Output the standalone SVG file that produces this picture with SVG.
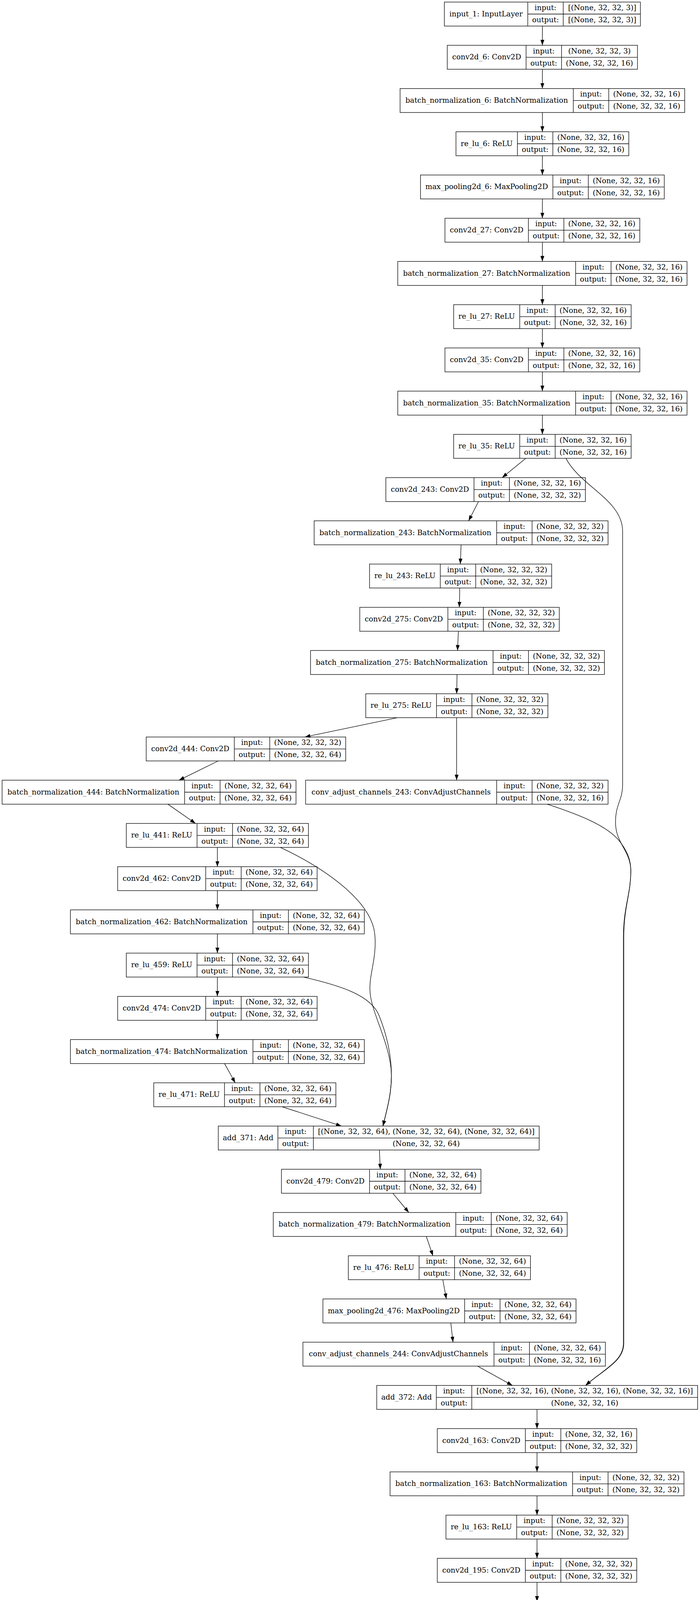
<svg xmlns="http://www.w3.org/2000/svg" width="1791" height="5828" viewBox="0 0 1791 5828">
<defs>
<style>
.n rect,.n path{fill:none;stroke:#000;stroke-width:1.33}
.n text{font-family:"DejaVu Serif","Liberation Serif",serif;font-size:18.67px;text-anchor:middle;fill:#000}
.e{fill:none;stroke:#000;stroke-width:1.33;marker-end:url(#arr)}
</style>
<marker id="arr" markerUnits="userSpaceOnUse" markerWidth="14" markerHeight="10" refX="13.3" refY="4.67" orient="auto" viewBox="0 0 13.3 9.33"><path d="M0,0L13.3,4.67L0,9.33z" fill="#000"/></marker>
</defs>
<rect width="1791" height="5828" fill="#fff"/>
<g id="edges">
<path class="e" d="M1387.7,66.67L1387.7,116"/>
<path class="e" d="M1387.7,177.33L1387.7,226.67"/>
<path class="e" d="M1387.7,288L1387.7,337.33"/>
<path class="e" d="M1387.7,398.67L1387.7,448"/>
<path class="e" d="M1387.7,509.33L1387.7,558.67"/>
<path class="e" d="M1387.7,620L1387.7,669.33"/>
<path class="e" d="M1387.7,730.67L1387.7,780"/>
<path class="e" d="M1387.7,841.33L1387.7,890.67"/>
<path class="e" d="M1387.7,952L1387.7,1001.33"/>
<path class="e" d="M1387.7,1062.67L1387.7,1112"/>
<path class="e" d="M1345.3,1173.33L1284.8,1222.67"/>
<path class="e" d="M1224.3,1284L1199,1333.33"/>
<path class="e" d="M1179.7,1394.67L1177.8,1444"/>
<path class="e" d="M1176.3,1505.33L1175.3,1554.67"/>
<path class="e" d="M1172.8,1616L1170.6,1665.33"/>
<path class="e" d="M1169.4,1726.67L1168.5,1776"/>
<path class="e" d="M1016.4,1837.33L780,1886.67"/>
<path class="e" d="M1168.3,1837.33L1168.3,1997.33"/>
<path class="e" d="M558.4,1948L458,1997.33"/>
<path class="e" d="M429.4,2058.67L500.2,2108"/>
<path class="e" d="M556.2,2169.33L556.2,2218.67"/>
<path class="e" d="M556.2,2280L556.2,2329.33"/>
<path class="e" d="M556.2,2390.67L556.2,2440"/>
<path class="e" d="M556.2,2501.33L556.2,2550.67"/>
<path class="e" d="M556.2,2612L556.2,2661.33"/>
<path class="e" d="M574.4,2722.67L601.8,2772"/>
<path class="e" d="M721.7,2833.33L873.6,2882.67"/>
<path class="e" d="M717.2,2169.33C815,2215 950,2300 959,2392C965,2460 940,2500 948,2550C955,2600 1000,2680 1001.5,2751C1002,2800 990,2840 979.8,2882.67"/>
<path class="e" d="M776.6,2501.33C880,2525 950,2550 970,2600C990,2650 1001,2700 1001.5,2751C1002,2800 990,2840 979.8,2882.67"/>
<path class="e" d="M970.7,2944L973,2993.33"/>
<path class="e" d="M1005,3054.67L1046,3104"/>
<path class="e" d="M1090.6,3165.33L1107.7,3214.67"/>
<path class="e" d="M1132.9,3276L1142,3325.33"/>
<path class="e" d="M1153.4,3386.67L1159,3436"/>
<path class="e" d="M1222,3497.33L1311,3546.67"/>
<path class="e" d="M1448,1173.33C1485,1245 1593,1280 1593,1360L1593,2010C1593,2050 1573,2060 1575,2110C1577,2160 1614,2180 1614,2230C1614,2290 1595,2320 1595,2400L1595,3439C1595,3485 1545,3505 1498.3,3546.67"/>
<path class="e" d="M1400,2058.67C1480,2085 1560,2115 1590,2160C1608,2185 1614,2205 1614,2230C1614,2290 1596,2320 1596,2400L1596,3439C1596,3485 1546,3505 1498.3,3546.67"/>
<path class="e" d="M1374,3608L1374,3657.33"/>
<path class="e" d="M1374,3718.67L1374,3768"/>
<path class="e" d="M1374,3829.33L1374,3878.67"/>
<path class="e" d="M1374,3940L1374,3989.33"/>
<path class="e" d="M1374,4050.67L1374,4100"/>
<path class="e" d="M1374,4161.33L1374,4210.67"/>
<path class="e" d="M1374,4272L1374,4321.33"/>
<path class="e" d="M1374,4382.67L1374,4432"/>
<path class="e" d="M1374,4493.33L1374,4542.67"/>
<path class="e" d="M1374,4604L1374,4653.33"/>
<path class="e" d="M1330.4,4714.67L1269.9,4764"/>
<path class="e" d="M1207,4825.33L1184.3,4874.67"/>
<path class="e" d="M1184.3,4936L1210.5,4985.33"/>
<path class="e" d="M1275.6,5046.67L1328.1,5096"/>
<path class="e" d="M1436.6,4714.67C1500,4780 1565,4840 1564.5,4905C1564,4980 1500,5050 1429.8,5096"/>
<path class="e" d="M1374,5157.33L1374,5206.67"/>
<path class="e" d="M1374,5268L1374,5317.33"/>
<path class="e" d="M1374,5378.67L1374,5428"/>
<path class="e" d="M1374,5489.33L1374,5538.67"/>
<path class="e" d="M1374,5600L1374,5649.33"/>
<path class="e" d="M1374,5710.67L1374,5760"/>
</g>
<g id="input_1" class="n" transform="translate(1136.9,5.33)"><rect width="501.6" height="61.33"/><path d="M213.5,0V61.33M304.2,0V61.33M213.5,30.67H501.6"/><text x="106.75" y="36.2">input_1: InputLayer</text><text x="258.85" y="20.8">input:</text><text x="258.85" y="51.5">output:</text><text x="403.9" y="20.8">[(None, 32, 32, 3)]</text><text x="403.9" y="51.5">[(None, 32, 32, 3)]</text></g>
<g id="conv2d_6" class="n" transform="translate(1144.4,116)"><rect width="486.6" height="61.33"/><path d="M201.6,0V61.33M292.3,0V61.33M201.6,30.67H486.6"/><text x="100.8" y="36.2">conv2d_6: Conv2D</text><text x="246.95" y="20.8">input:</text><text x="246.95" y="51.5">output:</text><text x="389.45" y="20.8">(None, 32, 32, 3)</text><text x="389.45" y="51.5">(None, 32, 32, 16)</text></g>
<g id="batch_normalization_6" class="n" transform="translate(1023.6,226.67)"><rect width="728.2" height="61.33"/><path d="M443.2,0V61.33M533.9,0V61.33M443.2,30.67H728.2"/><text x="221.6" y="36.2">batch_normalization_6: BatchNormalization</text><text x="488.55" y="20.8">input:</text><text x="488.55" y="51.5">output:</text><text x="631.05" y="20.8">(None, 32, 32, 16)</text><text x="631.05" y="51.5">(None, 32, 32, 16)</text></g>
<g id="re_lu_6" class="n" transform="translate(1166.6,337.33)"><rect width="442.2" height="61.33"/><path d="M157.2,0V61.33M247.9,0V61.33M157.2,30.67H442.2"/><text x="78.6" y="36.2">re_lu_6: ReLU</text><text x="202.55" y="20.8">input:</text><text x="202.55" y="51.5">output:</text><text x="345.05" y="20.8">(None, 32, 32, 16)</text><text x="345.05" y="51.5">(None, 32, 32, 16)</text></g>
<g id="max_pooling2d_6" class="n" transform="translate(1075.85,448)"><rect width="623.7" height="61.33"/><path d="M338.7,0V61.33M429.4,0V61.33M338.7,30.67H623.7"/><text x="169.35" y="36.2">max_pooling2d_6: MaxPooling2D</text><text x="384.05" y="20.8">input:</text><text x="384.05" y="51.5">output:</text><text x="526.55" y="20.8">(None, 32, 32, 16)</text><text x="526.55" y="51.5">(None, 32, 32, 16)</text></g>
<g id="conv2d_27" class="n" transform="translate(1138.45,558.67)"><rect width="498.5" height="61.33"/><path d="M213.5,0V61.33M304.2,0V61.33M213.5,30.67H498.5"/><text x="106.75" y="36.2">conv2d_27: Conv2D</text><text x="258.85" y="20.8">input:</text><text x="258.85" y="51.5">output:</text><text x="401.35" y="20.8">(None, 32, 32, 16)</text><text x="401.35" y="51.5">(None, 32, 32, 16)</text></g>
<g id="batch_normalization_27" class="n" transform="translate(1017.65,669.33)"><rect width="740.1" height="61.33"/><path d="M455.1,0V61.33M545.8,0V61.33M455.1,30.67H740.1"/><text x="227.55" y="36.2">batch_normalization_27: BatchNormalization</text><text x="500.45" y="20.8">input:</text><text x="500.45" y="51.5">output:</text><text x="642.95" y="20.8">(None, 32, 32, 16)</text><text x="642.95" y="51.5">(None, 32, 32, 16)</text></g>
<g id="re_lu_27" class="n" transform="translate(1160.65,780)"><rect width="454.1" height="61.33"/><path d="M169.1,0V61.33M259.8,0V61.33M169.1,30.67H454.1"/><text x="84.55" y="36.2">re_lu_27: ReLU</text><text x="214.45" y="20.8">input:</text><text x="214.45" y="51.5">output:</text><text x="356.95" y="20.8">(None, 32, 32, 16)</text><text x="356.95" y="51.5">(None, 32, 32, 16)</text></g>
<g id="conv2d_35" class="n" transform="translate(1138.45,890.67)"><rect width="498.5" height="61.33"/><path d="M213.5,0V61.33M304.2,0V61.33M213.5,30.67H498.5"/><text x="106.75" y="36.2">conv2d_35: Conv2D</text><text x="258.85" y="20.8">input:</text><text x="258.85" y="51.5">output:</text><text x="401.35" y="20.8">(None, 32, 32, 16)</text><text x="401.35" y="51.5">(None, 32, 32, 16)</text></g>
<g id="batch_normalization_35" class="n" transform="translate(1017.65,1001.33)"><rect width="740.1" height="61.33"/><path d="M455.1,0V61.33M545.8,0V61.33M455.1,30.67H740.1"/><text x="227.55" y="36.2">batch_normalization_35: BatchNormalization</text><text x="500.45" y="20.8">input:</text><text x="500.45" y="51.5">output:</text><text x="642.95" y="20.8">(None, 32, 32, 16)</text><text x="642.95" y="51.5">(None, 32, 32, 16)</text></g>
<g id="re_lu_35" class="n" transform="translate(1160.65,1112)"><rect width="454.1" height="61.33"/><path d="M169.1,0V61.33M259.8,0V61.33M169.1,30.67H454.1"/><text x="84.55" y="36.2">re_lu_35: ReLU</text><text x="214.45" y="20.8">input:</text><text x="214.45" y="51.5">output:</text><text x="356.95" y="20.8">(None, 32, 32, 16)</text><text x="356.95" y="51.5">(None, 32, 32, 16)</text></g>
<g id="conv2d_243" class="n" transform="translate(987.3,1222.67)"><rect width="510.4" height="61.33"/><path d="M225.4,0V61.33M316.1,0V61.33M225.4,30.67H510.4"/><text x="112.7" y="36.2">conv2d_243: Conv2D</text><text x="270.75" y="20.8">input:</text><text x="270.75" y="51.5">output:</text><text x="413.25" y="20.8">(None, 32, 32, 16)</text><text x="413.25" y="51.5">(None, 32, 32, 32)</text></g>
<g id="batch_normalization_243" class="n" transform="translate(803.7,1333.33)"><rect width="752" height="61.33"/><path d="M467,0V61.33M557.7,0V61.33M467,30.67H752"/><text x="233.5" y="36.2">batch_normalization_243: BatchNormalization</text><text x="512.35" y="20.8">input:</text><text x="512.35" y="51.5">output:</text><text x="654.85" y="20.8">(None, 32, 32, 32)</text><text x="654.85" y="51.5">(None, 32, 32, 32)</text></g>
<g id="re_lu_243" class="n" transform="translate(945.5,1444)"><rect width="466" height="61.33"/><path d="M181,0V61.33M271.7,0V61.33M181,30.67H466"/><text x="90.5" y="36.2">re_lu_243: ReLU</text><text x="226.35" y="20.8">input:</text><text x="226.35" y="51.5">output:</text><text x="368.85" y="20.8">(None, 32, 32, 32)</text><text x="368.85" y="51.5">(None, 32, 32, 32)</text></g>
<g id="conv2d_275" class="n" transform="translate(920.5,1554.67)"><rect width="510.4" height="61.33"/><path d="M225.4,0V61.33M316.1,0V61.33M225.4,30.67H510.4"/><text x="112.7" y="36.2">conv2d_275: Conv2D</text><text x="270.75" y="20.8">input:</text><text x="270.75" y="51.5">output:</text><text x="413.25" y="20.8">(None, 32, 32, 32)</text><text x="413.25" y="51.5">(None, 32, 32, 32)</text></g>
<g id="batch_normalization_275" class="n" transform="translate(794.5,1665.33)"><rect width="752" height="61.33"/><path d="M467,0V61.33M557.7,0V61.33M467,30.67H752"/><text x="233.5" y="36.2">batch_normalization_275: BatchNormalization</text><text x="512.35" y="20.8">input:</text><text x="512.35" y="51.5">output:</text><text x="654.85" y="20.8">(None, 32, 32, 32)</text><text x="654.85" y="51.5">(None, 32, 32, 32)</text></g>
<g id="re_lu_275" class="n" transform="translate(935.8,1776)"><rect width="466" height="61.33"/><path d="M181,0V61.33M271.7,0V61.33M181,30.67H466"/><text x="90.5" y="36.2">re_lu_275: ReLU</text><text x="226.35" y="20.8">input:</text><text x="226.35" y="51.5">output:</text><text x="368.85" y="20.8">(None, 32, 32, 32)</text><text x="368.85" y="51.5">(None, 32, 32, 32)</text></g>
<g id="conv2d_444" class="n" transform="translate(374.1,1886.67)"><rect width="510.4" height="61.33"/><path d="M225.4,0V61.33M316.1,0V61.33M225.4,30.67H510.4"/><text x="112.7" y="36.2">conv2d_444: Conv2D</text><text x="270.75" y="20.8">input:</text><text x="270.75" y="51.5">output:</text><text x="413.25" y="20.8">(None, 32, 32, 32)</text><text x="413.25" y="51.5">(None, 32, 32, 64)</text></g>
<g id="batch_normalization_444" class="n" transform="translate(5.4,1997.33)"><rect width="752" height="61.33"/><path d="M467,0V61.33M557.7,0V61.33M467,30.67H752"/><text x="233.5" y="36.2">batch_normalization_444: BatchNormalization</text><text x="512.35" y="20.8">input:</text><text x="512.35" y="51.5">output:</text><text x="654.85" y="20.8">(None, 32, 32, 64)</text><text x="654.85" y="51.5">(None, 32, 32, 64)</text></g>
<g id="conv_adjust_channels_243" class="n" transform="translate(781.9,1997.33)"><rect width="773.8" height="61.33"/><path d="M488.8,0V61.33M579.5,0V61.33M488.8,30.67H773.8"/><text x="244.4" y="36.2">conv_adjust_channels_243: ConvAdjustChannels</text><text x="534.15" y="20.8">input:</text><text x="534.15" y="51.5">output:</text><text x="676.65" y="20.8">(None, 32, 32, 32)</text><text x="676.65" y="51.5">(None, 32, 32, 16)</text></g>
<g id="re_lu_441" class="n" transform="translate(323.2,2108)"><rect width="466" height="61.33"/><path d="M181,0V61.33M271.7,0V61.33M181,30.67H466"/><text x="90.5" y="36.2">re_lu_441: ReLU</text><text x="226.35" y="20.8">input:</text><text x="226.35" y="51.5">output:</text><text x="368.85" y="20.8">(None, 32, 32, 64)</text><text x="368.85" y="51.5">(None, 32, 32, 64)</text></g>
<g id="conv2d_462" class="n" transform="translate(301,2218.67)"><rect width="510.4" height="61.33"/><path d="M225.4,0V61.33M316.1,0V61.33M225.4,30.67H510.4"/><text x="112.7" y="36.2">conv2d_462: Conv2D</text><text x="270.75" y="20.8">input:</text><text x="270.75" y="51.5">output:</text><text x="413.25" y="20.8">(None, 32, 32, 64)</text><text x="413.25" y="51.5">(None, 32, 32, 64)</text></g>
<g id="batch_normalization_462" class="n" transform="translate(180.2,2329.33)"><rect width="752" height="61.33"/><path d="M467,0V61.33M557.7,0V61.33M467,30.67H752"/><text x="233.5" y="36.2">batch_normalization_462: BatchNormalization</text><text x="512.35" y="20.8">input:</text><text x="512.35" y="51.5">output:</text><text x="654.85" y="20.8">(None, 32, 32, 64)</text><text x="654.85" y="51.5">(None, 32, 32, 64)</text></g>
<g id="re_lu_459" class="n" transform="translate(323.2,2440)"><rect width="466" height="61.33"/><path d="M181,0V61.33M271.7,0V61.33M181,30.67H466"/><text x="90.5" y="36.2">re_lu_459: ReLU</text><text x="226.35" y="20.8">input:</text><text x="226.35" y="51.5">output:</text><text x="368.85" y="20.8">(None, 32, 32, 64)</text><text x="368.85" y="51.5">(None, 32, 32, 64)</text></g>
<g id="conv2d_474" class="n" transform="translate(301,2550.67)"><rect width="510.4" height="61.33"/><path d="M225.4,0V61.33M316.1,0V61.33M225.4,30.67H510.4"/><text x="112.7" y="36.2">conv2d_474: Conv2D</text><text x="270.75" y="20.8">input:</text><text x="270.75" y="51.5">output:</text><text x="413.25" y="20.8">(None, 32, 32, 64)</text><text x="413.25" y="51.5">(None, 32, 32, 64)</text></g>
<g id="batch_normalization_474" class="n" transform="translate(180.2,2661.33)"><rect width="752" height="61.33"/><path d="M467,0V61.33M557.7,0V61.33M467,30.67H752"/><text x="233.5" y="36.2">batch_normalization_474: BatchNormalization</text><text x="512.35" y="20.8">input:</text><text x="512.35" y="51.5">output:</text><text x="654.85" y="20.8">(None, 32, 32, 64)</text><text x="654.85" y="51.5">(None, 32, 32, 64)</text></g>
<g id="re_lu_471" class="n" transform="translate(393.4,2772)"><rect width="466" height="61.33"/><path d="M181,0V61.33M271.7,0V61.33M181,30.67H466"/><text x="90.5" y="36.2">re_lu_471: ReLU</text><text x="226.35" y="20.8">input:</text><text x="226.35" y="51.5">output:</text><text x="368.85" y="20.8">(None, 32, 32, 64)</text><text x="368.85" y="51.5">(None, 32, 32, 64)</text></g>
<g id="add_371" class="n" transform="translate(558.5,2882.67)"><rect width="821" height="61.33"/><path d="M152.5,0V61.33M243.2,0V61.33M152.5,30.67H821"/><text x="76.25" y="36.2">add_371: Add</text><text x="197.85" y="20.8">input:</text><text x="197.85" y="51.5">output:</text><text x="532.1" y="20.8">[(None, 32, 32, 64), (None, 32, 32, 64), (None, 32, 32, 64)]</text><text x="532.1" y="51.5">(None, 32, 32, 64)</text></g>
<g id="conv2d_479" class="n" transform="translate(720.1,2993.33)"><rect width="510.4" height="61.33"/><path d="M225.4,0V61.33M316.1,0V61.33M225.4,30.67H510.4"/><text x="112.7" y="36.2">conv2d_479: Conv2D</text><text x="270.75" y="20.8">input:</text><text x="270.75" y="51.5">output:</text><text x="413.25" y="20.8">(None, 32, 32, 64)</text><text x="413.25" y="51.5">(None, 32, 32, 64)</text></g>
<g id="batch_normalization_479" class="n" transform="translate(699.2,3104)"><rect width="752" height="61.33"/><path d="M467,0V61.33M557.7,0V61.33M467,30.67H752"/><text x="233.5" y="36.2">batch_normalization_479: BatchNormalization</text><text x="512.35" y="20.8">input:</text><text x="512.35" y="51.5">output:</text><text x="654.85" y="20.8">(None, 32, 32, 64)</text><text x="654.85" y="51.5">(None, 32, 32, 64)</text></g>
<g id="re_lu_476" class="n" transform="translate(891.3,3214.67)"><rect width="466" height="61.33"/><path d="M181,0V61.33M271.7,0V61.33M181,30.67H466"/><text x="90.5" y="36.2">re_lu_476: ReLU</text><text x="226.35" y="20.8">input:</text><text x="226.35" y="51.5">output:</text><text x="368.85" y="20.8">(None, 32, 32, 64)</text><text x="368.85" y="51.5">(None, 32, 32, 64)</text></g>
<g id="max_pooling2d_476" class="n" transform="translate(826.25,3325.33)"><rect width="647.5" height="61.33"/><path d="M362.5,0V61.33M453.2,0V61.33M362.5,30.67H647.5"/><text x="181.25" y="36.2">max_pooling2d_476: MaxPooling2D</text><text x="407.85" y="20.8">input:</text><text x="407.85" y="51.5">output:</text><text x="550.35" y="20.8">(None, 32, 32, 64)</text><text x="550.35" y="51.5">(None, 32, 32, 64)</text></g>
<g id="conv_adjust_channels_244" class="n" transform="translate(775.1,3436)"><rect width="773.8" height="61.33"/><path d="M488.8,0V61.33M579.5,0V61.33M488.8,30.67H773.8"/><text x="244.4" y="36.2">conv_adjust_channels_244: ConvAdjustChannels</text><text x="534.15" y="20.8">input:</text><text x="534.15" y="51.5">output:</text><text x="676.65" y="20.8">(None, 32, 32, 64)</text><text x="676.65" y="51.5">(None, 32, 32, 16)</text></g>
<g id="add_372" class="n" transform="translate(963.9,3546.67)"><rect width="821" height="61.33"/><path d="M152.5,0V61.33M243.2,0V61.33M152.5,30.67H821"/><text x="76.25" y="36.2">add_372: Add</text><text x="197.85" y="20.8">input:</text><text x="197.85" y="51.5">output:</text><text x="532.1" y="20.8">[(None, 32, 32, 16), (None, 32, 32, 16), (None, 32, 32, 16)]</text><text x="532.1" y="51.5">(None, 32, 32, 16)</text></g>
<g id="conv2d_163" class="n" transform="translate(1118.8,3657.33)"><rect width="510.4" height="61.33"/><path d="M225.4,0V61.33M316.1,0V61.33M225.4,30.67H510.4"/><text x="112.7" y="36.2">conv2d_163: Conv2D</text><text x="270.75" y="20.8">input:</text><text x="270.75" y="51.5">output:</text><text x="413.25" y="20.8">(None, 32, 32, 16)</text><text x="413.25" y="51.5">(None, 32, 32, 32)</text></g>
<g id="batch_normalization_163" class="n" transform="translate(998,3768)"><rect width="752" height="61.33"/><path d="M467,0V61.33M557.7,0V61.33M467,30.67H752"/><text x="233.5" y="36.2">batch_normalization_163: BatchNormalization</text><text x="512.35" y="20.8">input:</text><text x="512.35" y="51.5">output:</text><text x="654.85" y="20.8">(None, 32, 32, 32)</text><text x="654.85" y="51.5">(None, 32, 32, 32)</text></g>
<g id="re_lu_163" class="n" transform="translate(1141,3878.67)"><rect width="466" height="61.33"/><path d="M181,0V61.33M271.7,0V61.33M181,30.67H466"/><text x="90.5" y="36.2">re_lu_163: ReLU</text><text x="226.35" y="20.8">input:</text><text x="226.35" y="51.5">output:</text><text x="368.85" y="20.8">(None, 32, 32, 32)</text><text x="368.85" y="51.5">(None, 32, 32, 32)</text></g>
<g id="conv2d_195" class="n" transform="translate(1118.8,3989.33)"><rect width="510.4" height="61.33"/><path d="M225.4,0V61.33M316.1,0V61.33M225.4,30.67H510.4"/><text x="112.7" y="36.2">conv2d_195: Conv2D</text><text x="270.75" y="20.8">input:</text><text x="270.75" y="51.5">output:</text><text x="413.25" y="20.8">(None, 32, 32, 32)</text><text x="413.25" y="51.5">(None, 32, 32, 32)</text></g>
<g id="batch_normalization_195" class="n" transform="translate(998,4100)"><rect width="752" height="61.33"/><path d="M467,0V61.33M557.7,0V61.33M467,30.67H752"/><text x="233.5" y="36.2">batch_normalization_195: BatchNormalization</text><text x="512.35" y="20.8">input:</text><text x="512.35" y="51.5">output:</text><text x="654.85" y="20.8">(None, 32, 32, 32)</text><text x="654.85" y="51.5">(None, 32, 32, 32)</text></g>
<g id="re_lu_195" class="n" transform="translate(1141,4210.67)"><rect width="466" height="61.33"/><path d="M181,0V61.33M271.7,0V61.33M181,30.67H466"/><text x="90.5" y="36.2">re_lu_195: ReLU</text><text x="226.35" y="20.8">input:</text><text x="226.35" y="51.5">output:</text><text x="368.85" y="20.8">(None, 32, 32, 32)</text><text x="368.85" y="51.5">(None, 32, 32, 32)</text></g>
<g id="conv2d_1625" class="n" transform="translate(1112.85,4321.33)"><rect width="522.3" height="61.33"/><path d="M237.3,0V61.33M328,0V61.33M237.3,30.67H522.3"/><text x="118.65" y="36.2">conv2d_1625: Conv2D</text><text x="282.65" y="20.8">input:</text><text x="282.65" y="51.5">output:</text><text x="425.15" y="20.8">(None, 32, 32, 32)</text><text x="425.15" y="51.5">(None, 32, 32, 64)</text></g>
<g id="batch_normalization_1625" class="n" transform="translate(992.05,4432)"><rect width="763.9" height="61.33"/><path d="M478.9,0V61.33M569.6,0V61.33M478.9,30.67H763.9"/><text x="239.45" y="36.2">batch_normalization_1625: BatchNormalization</text><text x="524.25" y="20.8">input:</text><text x="524.25" y="51.5">output:</text><text x="666.75" y="20.8">(None, 32, 32, 64)</text><text x="666.75" y="51.5">(None, 32, 32, 64)</text></g>
<g id="re_lu_1480" class="n" transform="translate(1135.05,4542.67)"><rect width="477.9" height="61.33"/><path d="M192.9,0V61.33M283.6,0V61.33M192.9,30.67H477.9"/><text x="96.45" y="36.2">re_lu_1480: ReLU</text><text x="238.25" y="20.8">input:</text><text x="238.25" y="51.5">output:</text><text x="380.75" y="20.8">(None, 32, 32, 64)</text><text x="380.75" y="51.5">(None, 32, 32, 64)</text></g>
<g id="max_pooling2d_1480" class="n" transform="translate(1044.3,4653.33)"><rect width="659.4" height="61.33"/><path d="M374.4,0V61.33M465.1,0V61.33M374.4,30.67H659.4"/><text x="187.2" y="36.2">max_pooling2d_1480: MaxPooling2D</text><text x="419.75" y="20.8">input:</text><text x="419.75" y="51.5">output:</text><text x="562.25" y="20.8">(None, 32, 32, 64)</text><text x="562.25" y="51.5">(None, 32, 32, 64)</text></g>
<g id="conv2d_1644" class="n" transform="translate(963.65,4764)"><rect width="522.3" height="61.33"/><path d="M237.3,0V61.33M328,0V61.33M237.3,30.67H522.3"/><text x="118.65" y="36.2">conv2d_1644: Conv2D</text><text x="282.65" y="20.8">input:</text><text x="282.65" y="51.5">output:</text><text x="425.15" y="20.8">(None, 32, 32, 64)</text><text x="425.15" y="51.5">(None, 32, 32, 64)</text></g>
<g id="batch_normalization_1644" class="n" transform="translate(781.75,4874.67)"><rect width="763.9" height="61.33"/><path d="M478.9,0V61.33M569.6,0V61.33M478.9,30.67H763.9"/><text x="239.45" y="36.2">batch_normalization_1644: BatchNormalization</text><text x="524.25" y="20.8">input:</text><text x="524.25" y="51.5">output:</text><text x="666.75" y="20.8">(None, 32, 32, 64)</text><text x="666.75" y="51.5">(None, 32, 32, 64)</text></g>
<g id="re_lu_1499" class="n" transform="translate(996.75,4985.33)"><rect width="477.9" height="61.33"/><path d="M192.9,0V61.33M283.6,0V61.33M192.9,30.67H477.9"/><text x="96.45" y="36.2">re_lu_1499: ReLU</text><text x="238.25" y="20.8">input:</text><text x="238.25" y="51.5">output:</text><text x="380.75" y="20.8">(None, 32, 32, 64)</text><text x="380.75" y="51.5">(None, 32, 32, 64)</text></g>
<g id="add_373" class="n" transform="translate(1055.85,5096)"><rect width="637.1" height="61.33"/><path d="M152.5,0V61.33M243.2,0V61.33M152.5,30.67H637.1"/><text x="76.25" y="36.2">add_373: Add</text><text x="197.85" y="20.8">input:</text><text x="197.85" y="51.5">output:</text><text x="440.15" y="20.8">[(None, 32, 32, 64), (None, 32, 32, 64)]</text><text x="440.15" y="51.5">(None, 32, 32, 64)</text></g>
<g id="conv2d_1664" class="n" transform="translate(1112.85,5206.67)"><rect width="522.3" height="61.33"/><path d="M237.3,0V61.33M328,0V61.33M237.3,30.67H522.3"/><text x="118.65" y="36.2">conv2d_1664: Conv2D</text><text x="282.65" y="20.8">input:</text><text x="282.65" y="51.5">output:</text><text x="425.15" y="20.8">(None, 32, 32, 64)</text><text x="425.15" y="51.5">(None, 32, 32, 64)</text></g>
<g id="batch_normalization_1664" class="n" transform="translate(992.05,5317.33)"><rect width="763.9" height="61.33"/><path d="M478.9,0V61.33M569.6,0V61.33M478.9,30.67H763.9"/><text x="239.45" y="36.2">batch_normalization_1664: BatchNormalization</text><text x="524.25" y="20.8">input:</text><text x="524.25" y="51.5">output:</text><text x="666.75" y="20.8">(None, 32, 32, 64)</text><text x="666.75" y="51.5">(None, 32, 32, 64)</text></g>
<g id="re_lu_1519" class="n" transform="translate(1135.05,5428)"><rect width="477.9" height="61.33"/><path d="M192.9,0V61.33M283.6,0V61.33M192.9,30.67H477.9"/><text x="96.45" y="36.2">re_lu_1519: ReLU</text><text x="238.25" y="20.8">input:</text><text x="238.25" y="51.5">output:</text><text x="380.75" y="20.8">(None, 32, 32, 64)</text><text x="380.75" y="51.5">(None, 32, 32, 64)</text></g>
<g id="flatten_318" class="n" transform="translate(1125.9,5538.67)"><rect width="496.2" height="61.33"/><path d="M211.2,0V61.33M301.9,0V61.33M211.2,30.67H496.2"/><text x="105.6" y="36.2">flatten_318: Flatten</text><text x="256.55" y="20.8">input:</text><text x="256.55" y="51.5">output:</text><text x="399.05" y="20.8">(None, 32, 32, 64)</text><text x="399.05" y="51.5">(None, 65536)</text></g>
<g id="dense_636" class="n" transform="translate(1152.4,5649.33)"><rect width="443.2" height="61.33"/><path d="M194.4,0V61.33M285.1,0V61.33M194.4,30.67H443.2"/><text x="97.2" y="36.2">dense_636: Dense</text><text x="239.75" y="20.8">input:</text><text x="239.75" y="51.5">output:</text><text x="364.15" y="20.8">(None, 65536)</text><text x="364.15" y="51.5">(None, 256)</text></g>
<g id="dense_637" class="n" transform="translate(1164.3,5760)"><rect width="419.4" height="61.33"/><path d="M194.3,0V61.33M285,0V61.33M194.3,30.67H419.4"/><text x="97.15" y="36.2">dense_637: Dense</text><text x="239.65" y="20.8">input:</text><text x="239.65" y="51.5">output:</text><text x="352.2" y="20.8">(None, 256)</text><text x="352.2" y="51.5">(None, 10)</text></g>
</svg>
